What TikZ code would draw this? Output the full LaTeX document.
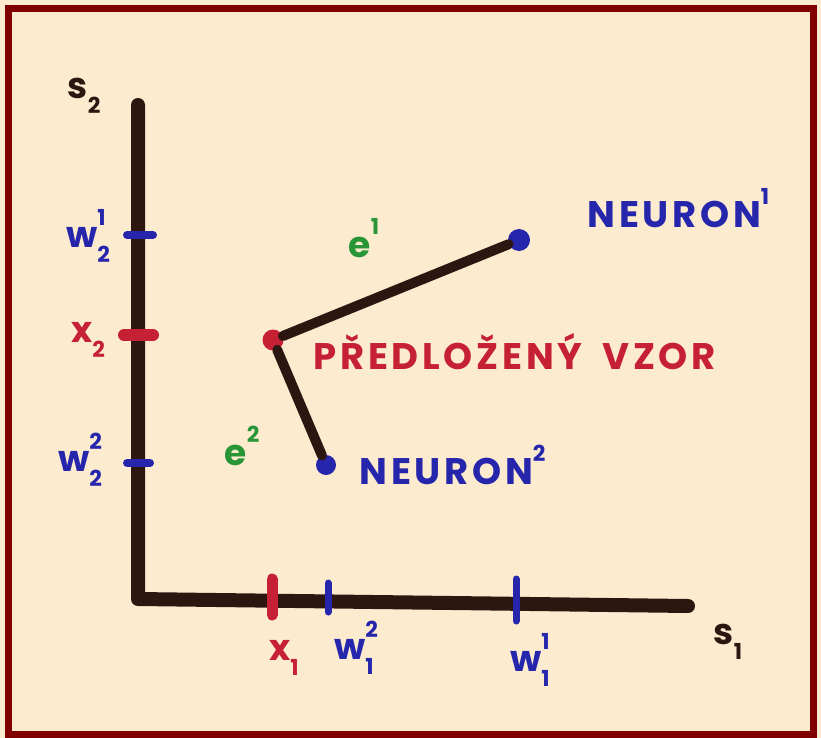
\documentclass[tikz,border=0pt]{standalone}
\usepackage{fontspec}
\setmainfont{Poppins}
\definecolor{paper}{RGB}{253,235,208}
\definecolor{frame}{RGB}{128,0,0}
\definecolor{ink}{RGB}{45,22,16}
\definecolor{pen blue}{RGB}{38,38,172}
\definecolor{pen red}{RGB}{198,32,52}
\definecolor{pen green}{RGB}{40,150,55}
\newcommand\supx[1]{\raisebox{.62em}{\fontsize{22}{22}\selectfont#1}}
\newcommand\subx[1]{\raisebox{-.42em}{\fontsize{22}{22}\selectfont#1}}
\newcommand\lblss[3]{#1\rlap{\supx{#3}}\subx{#2}}

\begin{document}
\begin{tikzpicture}[x=1pt,y=-1pt,font=\bfseries,
  axis/.style={ink,line width=14pt,line cap=round,line join=round},
  link/.style={ink,line width=10pt,line cap=round},
  tick/.style={line width=8pt,line cap=round},
  dot/.style={circle,inner sep=0pt,minimum size=22pt},
  lbl/.style={font=\bfseries\fontsize{36}{36}\selectfont},
  word/.style={font=\bfseries\fontsize{37}{37}\selectfont\addfontfeature{LetterSpace=10},anchor=west}]
\useasboundingbox (0,0) rectangle (821,738);
\fill[paper] (0,0) rectangle (821,738);
\draw[frame,line width=7pt] (8,9) rectangle (813,734);
% axes
\coordinate (top) at (138,105);
\coordinate (origin) at (138,599);
\coordinate (right) at (688,606);
\draw[axis] (top) -- (origin) -- (right);
\node[lbl,ink] (s2) at (84,96) {s\subx{2}};
\node[lbl,ink] (s1) at (728,642) {s\subx{1}};
% ticks on the vertical axis
\draw[tick,pen blue] (127,235) -- (153,235);
\draw[tick,pen red,line width=12pt] (124,335) -- (153,335);
\draw[tick,pen blue] (127,463) -- (150,463);
\node[lbl,pen blue] (w21) at (88,236) {\lblss{w}{2}{1}};
\node[lbl,pen red] (x2) at (88,340) {x\subx{2}};
\node[lbl,pen blue] (w22) at (80,460) {\lblss{w}{2}{2}};
% ticks on the horizontal axis
\draw[tick,pen red,line width=11pt] (272,579) -- (272,615);
\draw[tick,pen blue,line width=7pt] (328,583) -- (328,612);
\draw[tick,pen blue,line width=7pt] (516,579) -- (516,621);
\node[lbl,pen red] (x1) at (284,658) {x\subx{1}};
\node[lbl,pen blue] (w12) at (354,648) {\lblss{w}{1}{2}};
\node[lbl,pen blue] (w11) at (530,660) {\lblss{w}{1}{1}};
% pattern and neurons
\node[dot,fill=pen red,minimum size=21pt] (vzor) at (273,340) {};
\node[dot,fill=pen blue] (n1) at (519,240) {};
\node[dot,fill=pen blue,minimum size=20pt] (n2) at (326,465) {};
\draw[link] (vzor) -- (n1);
\draw[link] (vzor) -- (n2);
\node[lbl,pen green] (e1) at (364,238) {e\supx{1}};
\node[lbl,pen green] (e2) at (242,446) {e\supx{2}};
\node[word,pen blue] (lab1) at (584,208) {NEURON\supx{1}};
\node[word,pen blue] (lab2) at (356,465) {NEURON\supx{2}};
\node[word,pen red] (labv) at (310,352) {PŘEDLOŽENÝ\hspace{20pt}VZOR};
\end{tikzpicture}
\end{document}
